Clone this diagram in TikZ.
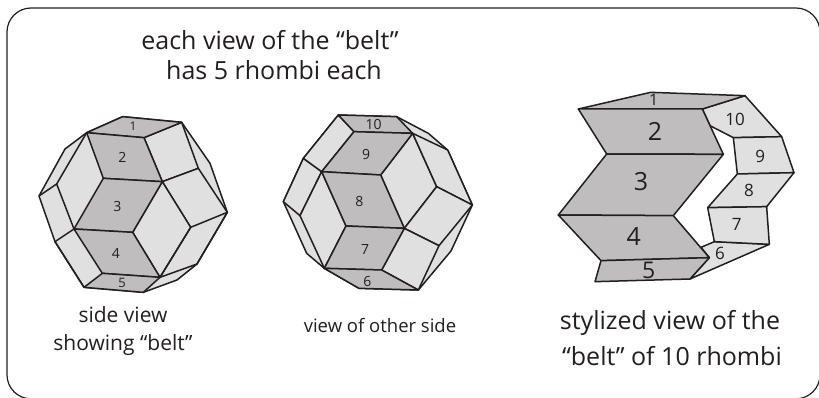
\documentclass[tikz,border=0pt]{standalone}
\usepackage{fontspec}
\setmainfont{Open Sans}
\definecolor{darkface}{HTML}{BFBDBE}
\definecolor{lightface}{HTML}{E0E0E0}
\definecolor{ink}{HTML}{231F20}
\tikzset{
  frame/.style={draw=ink,line width=1.2pt,rounded corners=24pt},
  dark/.style={fill=darkface,draw=ink,line width=1.5pt,line join=round},
  light/.style={fill=lightface,draw=ink,line width=1.5pt,line join=round},
  edge/.style={draw=ink,line width=1.5pt,line join=round},
  lab/.style={text=ink,inner sep=0pt,align=center},
  zoomed/.style={x=0.33333pt,y=-0.33333pt}
}
\begin{document}
\begin{tikzpicture}[x=1pt,y=-1pt]
\useasboundingbox (0,0) rectangle (819,398);
\fill[white] (0,0) rectangle (819,398);
\begin{scope}
\clip (0,0) rectangle (819,398);
\draw[frame] (7,8) rectangle (820,398.8);
\end{scope}
\node[lab,font=\fontsize{25}{30}\selectfont] (title1) at (270,40) {each view of the “belt”};
\node[lab,font=\fontsize{25}{30}\selectfont] (title2) at (274,70) {has 5 rhombi each};
% left polyhedron
\begin{scope}[zoomed,xshift=20pt,yshift=-100pt]
\path[light] (308,50)--(485,67)--(570,190)--(622,337)--(531,492)--(471,540)--(370,577)--(192,562)--(105,425)--(57,288)--(135,147)--(200,98)--cycle;
\path[light] (372,113)--(485,67)--(535,205)--(427,245)--cycle;
\path[light] (427,245)--(535,205)--(622,337)--(512,382)--cycle;
\path[light] (427,245)--(512,382)--(420,532)--(338,397)--cycle;
\path[edge] (622,337)--(531,492)--(420,532) (512,382)--(420,532);
\path[edge] (200,98)--(110,252)--(162,387) (57,288)--(110,252) (162,387)--(105,425) (105,425)--(192,562);
\path[dark] (308,50)--(485,67)--(372,113)--(200,98)--cycle;
\path[dark] (200,98)--(372,113)--(427,245)--(250,235)--cycle;
\path[dark] (250,235)--(427,245)--(338,397)--(162,387)--cycle;
\path[dark] (162,387)--(338,397)--(420,532)--(247,520)--cycle;
\path[dark] (247,520)--(420,532)--(370,577)--(192,562)--cycle;
\node[lab,font=\fontsize{12}{14}\selectfont] (l1) at (339,79) {1};
\node[lab,font=\fontsize{14}{16}\selectfont] (l2) at (307,172) {2};
\node[lab,font=\fontsize{14}{16}\selectfont] (l3) at (292,320) {3};
\node[lab,font=\fontsize{14}{16}\selectfont] (l4) at (288,460) {4};
\node[lab,font=\fontsize{13}{15}\selectfont] (l5) at (306,550) {5};
\end{scope}
% right polyhedron
\begin{scope}[zoomed,xshift=270pt,yshift=-100pt]
\path[light] (205,45)--(380,50)--(475,100)--(533,150)--(607,315)--(543,453)--(445,570)--(267,565)--(163,505)--(110,460)--(40,305)--(100,175)--cycle;
\path[light] (428,100)--(500,260)--(403,385)--(332,225)--cycle;
\path[light] (428,100)--(533,150)--(607,315)--(500,260)--cycle;
\path[light] (500,260)--(607,315)--(507,437)--(403,385)--cycle;
\path[light] (403,385)--(507,437)--(445,570)--(335,510)--cycle;
\path[light] (100,175)--(155,215)--(90,347)--(40,305)--cycle;
\path[light] (205,45)--(252,95)--(155,215)--(100,175)--cycle;
\path[light] (155,215)--(228,378)--(163,505)--(90,347)--cycle;
\path[dark] (205,45)--(380,50)--(428,100)--(252,95)--cycle;
\path[dark] (252,95)--(428,100)--(332,225)--(155,215)--cycle;
\path[dark] (155,215)--(332,225)--(403,385)--(228,378)--cycle;
\path[dark] (228,378)--(403,385)--(335,510)--(163,505)--cycle;
\path[dark] (163,505)--(335,510)--(445,570)--(267,565)--cycle;
\node[lab,font=\fontsize{14}{16}\selectfont] (r10) at (311,73) {10};
\node[lab,font=\fontsize{14}{16}\selectfont] (r9) at (288,163) {9};
\node[lab,font=\fontsize{14}{16}\selectfont] (r8) at (268,305) {8};
\node[lab,font=\fontsize{14}{16}\selectfont] (r7) at (285,450) {7};
\node[lab,font=\fontsize{14}{16}\selectfont] (r6) at (292,545) {6};
\end{scope}
% belt
\begin{scope}[zoomed,xshift=540pt,yshift=-85pt]
\path[light] (483,487)--(523,470)--(688,478)--(450,582)--(508,518)--cycle;
\path[light] (487,72)--(615,32)--(725,155)--(580,158)--(510,122)--cycle;
\path[light] (580,158)--(725,155)--(762,263)--(592,267)--cycle;
\path[light] (592,267)--(762,263)--(680,365)--(503,368)--cycle;
\path[light] (503,368)--(680,365)--(688,478)--(523,470)--cycle;
\path[dark] (332,22)--(615,32)--(487,72)--(115,72)--cycle;
\path[dark] (115,72)--(487,72)--(550,208)--(200,207)--cycle;
\path[dark] (200,207)--(550,208)--(400,392)--(55,390)--cycle;
\path[dark] (55,390)--(400,392)--(508,518)--(183,527)--cycle;
\path[dark] (183,527)--(508,518)--(450,582)--(165,590)--cycle;
\node[lab,font=\fontsize{16}{18}\selectfont] (b1) at (341,45) {1};
\node[lab,font=\fontsize{25}{27}\selectfont] (b2) at (345,138) {2};
\node[lab,font=\fontsize{25}{27}\selectfont] (b3) at (303,290) {3};
\node[lab,font=\fontsize{25}{27}\selectfont] (b4) at (281,456) {4};
\node[lab,font=\fontsize{23}{25}\selectfont] (b5) at (326,556) {5};
\node[lab,font=\fontsize{17}{19}\selectfont] (b6) at (540,505) {6};
\node[lab,font=\fontsize{17}{19}\selectfont] (b7) at (590,418) {7};
\node[lab,font=\fontsize{17}{19}\selectfont] (b8) at (627,317) {8};
\node[lab,font=\fontsize{17}{19}\selectfont] (b9) at (661,214) {9};
\node[lab,font=\fontsize{17}{19}\selectfont] (b10) at (585,102) {10};
\end{scope}
\node[lab,font=\fontsize{21}{28}\selectfont] (capl) at (123,331) {side view\\showing “belt”};
\node[lab,font=\fontsize{18.5}{22}\selectfont] (capm) at (380,326) {view of other side};
\node[lab,font=\fontsize{25}{33}\selectfont] (capr1) at (670,323) {stylized view of the};
\node[lab,font=\fontsize{25}{33}\selectfont] (capr2) at (672,356) {“belt” of 10 rhombi};
\end{tikzpicture}
\end{document}
